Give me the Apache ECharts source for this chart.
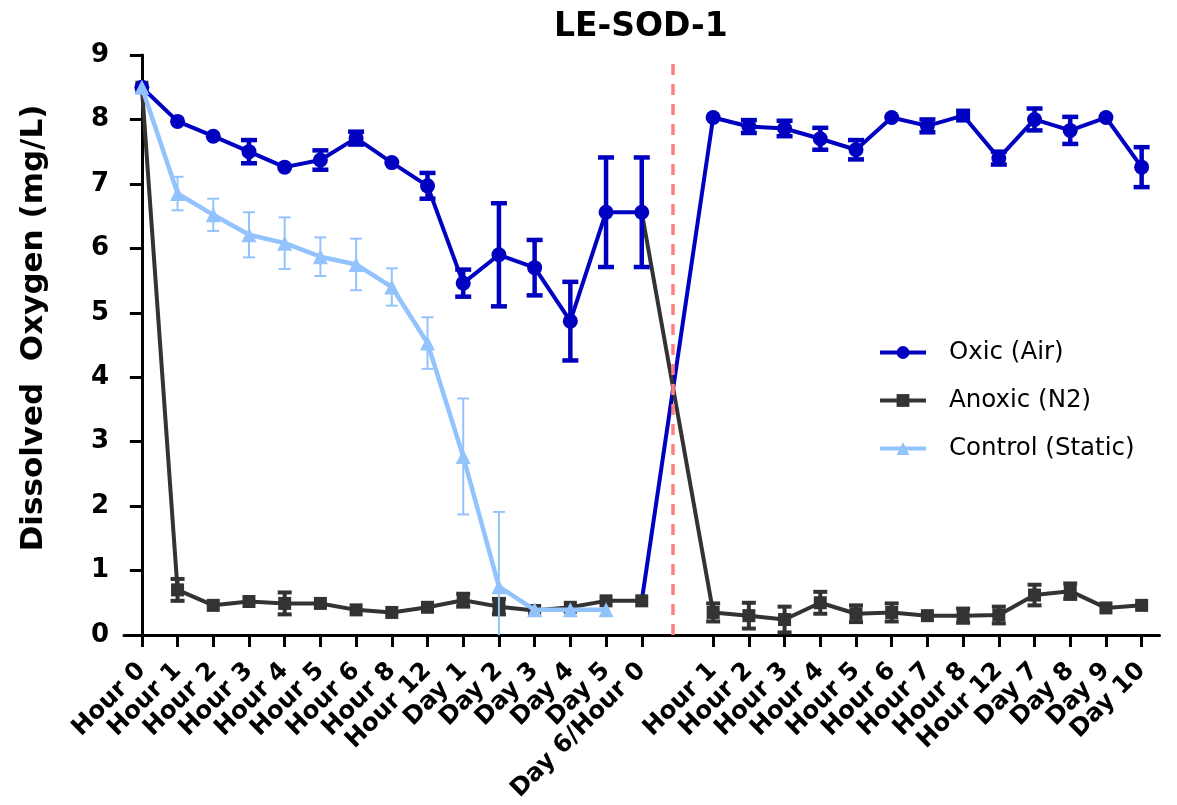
<!DOCTYPE html>
<html>
<head>
<meta charset="utf-8">
<script src="https://cdn.jsdelivr.net/npm/echarts@6/dist/echarts.min.js"></script>
<style>
html,body{margin:0;padding:0;background:#fff;}
#chart{width:1177px;height:805px;}
</style>
</head>
<body>
<div id="chart"></div>
<script>
// ---- data ----
const labels = ['Hour 0','Hour 1','Hour 2','Hour 3','Hour 4','Hour 5','Hour 6','Hour 8','Hour 12','Day 1','Day 2','Day 3','Day 4','Day 5','Day 6/Hour 0','',
  'Hour 1','Hour 2','Hour 3','Hour 4','Hour 5','Hour 6','Hour 7','Hour 8','Hour 12','Day 7','Day 8','Day 9','Day 10'];
const yTicks = [0,1,2,3,4,5,6,7,8,9];
const switchPoint = 14.87; // position of the dashed switch line on the category index scale

const oxicMean = [8.50, 7.97, 7.74, 7.50, 7.26, 7.37, 7.71, 7.33, 6.97, 5.46, 5.90, 5.70, 4.87, 6.56, 6.56, null,
  8.03, 7.89, 7.86, 7.70, 7.53, 8.03, 7.90, 8.06, 7.40, 8.00, 7.83, 8.03, 7.26];
const oxicSd = [0, 0, 0, 0.18, 0, 0.15, 0.10, 0, 0.20, 0.21, 0.80, 0.43, 0.61, 0.85, 0.85, null,
  0, 0.10, 0.12, 0.17, 0.15, 0, 0.10, 0, 0.10, 0.17, 0.21, 0, 0.31];

const anoxicMean = [8.50, 0.70, 0.46, 0.52, 0.49, 0.49, 0.39, 0.35, 0.43, 0.54, 0.44, 0.38, 0.43, 0.53, 0.53, null,
  0.35, 0.30, 0.24, 0.50, 0.33, 0.35, 0.30, 0.30, 0.31, 0.62, 0.68, 0.42, 0.46];
const anoxicSd = [0, 0.17, 0, 0, 0.17, 0, 0, 0, 0, 0.10, 0.12, 0, 0, 0, 0, null,
  0.14, 0.20, 0.20, 0.17, 0.13, 0.14, 0, 0.11, 0.13, 0.16, 0.12, 0, 0];

const controlMean = [8.50, 6.85, 6.52, 6.21, 6.08, 5.87, 5.75, 5.40, 4.53, 2.77, 0.75, 0.39, 0.39, 0.39];
const controlSd = [0, 0.26, 0.25, 0.35, 0.40, 0.30, 0.40, 0.29, 0.40, 0.90, 1.16, 0, 0, 0];

// ---- styling ----
const FONT = 'DejaVu Sans';
const C_OXIC = '#0000C0', C_ANOX = '#333333', C_CTRL = '#93C3FD', C_LINE = '#FF8080';

function pts(arr, from, to) {
  const out = [];
  for (let i = from; i <= to; i++) if (arr[i] != null) out.push([i, arr[i]]);
  return out;
}
function errPts(mean, sd, from, to) {
  const out = [];
  for (let i = from; i <= to; i++) if (sd[i] && sd[i] > 0) out.push([i, mean[i], sd[i]]);
  return out;
}
function errSeries(name, data, color, lw, cap, z) {
  return {
    name: name, type: 'custom', data: data, z: z, silent: true, clip: false,
    renderItem: function (params, api) {
      const x = api.value(0), m = api.value(1), s = api.value(2);
      const top = api.coord([x, m + s]);
      const bot = api.coord([x, Math.max(0, m - s)]);
      const st = { stroke: color, lineWidth: lw };
      const ch = [{ type: 'line', shape: { x1: top[0], y1: top[1], x2: bot[0], y2: bot[1] }, style: st },
                  { type: 'line', shape: { x1: top[0] - cap / 2, y1: top[1], x2: top[0] + cap / 2, y2: top[1] }, style: st }];
      if (m - s > 0) ch.push({ type: 'line', shape: { x1: bot[0] - cap / 2, y1: bot[1], x2: bot[0] + cap / 2, y2: bot[1] }, style: st });
      return { type: 'group', children: ch };
    }
  };
}

const tickIdx = [];
for (let i = 0; i < labels.length; i++) if (labels[i] !== '') tickIdx.push(i);

const oxic2 = [{ value: [14, anoxicMean[14]], symbol: 'none' }].concat(
  pts(oxicMean, 16, 28).map(p => p[0] === 23 ? { value: p, symbol: 'rect', symbolSize: 14 } : p));
const anoxic2 = [{ value: [14, oxicMean[14]], symbol: 'none' }].concat(pts(anoxicMean, 16, 28));

const chart = echarts.init(document.getElementById('chart'), null, { renderer: 'canvas' });
chart.setOption({
  animation: false,
  backgroundColor: '#fff',
  textStyle: { fontFamily: FONT },
  title: {
    text: 'LE-SOD-1', left: 549, top: 6,
    textStyle: { fontFamily: FONT, fontWeight: 'bold', fontSize: 33, color: '#000' }
  },
  legend: {
    orient: 'vertical', left: 873, top: 334,
    data: ['Oxic (Air)', 'Anoxic (N2)', 'Control (Static)'],
    itemWidth: 46, itemHeight: 16, itemGap: 21,
    lineStyle: { width: 4 },
    textStyle: { fontFamily: FONT, fontSize: 24.5, color: '#000', lineHeight: 27, padding: [0, 0, 0, 18] }
  },
  grid: { left: 124, right: 17.5, top: 55, bottom: 170, containLabel: false, outerBoundsMode: 'none' },
  xAxis: {
    type: 'value', min: -0.5, max: 28.5,
    splitLine: { show: false },
    axisLine: { show: true, onZero: false, lineStyle: { color: '#000', width: 3 } },
    axisTick: { show: true, customValues: tickIdx, length: 12, lineStyle: { color: '#000', width: 3 } },
    axisLabel: {
      customValues: tickIdx, rotate: 45, margin: 32,
      formatter: v => labels[Math.round(v)],
      fontFamily: FONT, fontWeight: 'bold', fontSize: 24.5, color: '#000'
    }
  },
  yAxis: {
    type: 'value', min: 0, max: 9, interval: 1,
    name: 'Dissolved  Oxygen (mg/L)', nameLocation: 'middle', nameGap: 75,
    nameTextStyle: { fontFamily: FONT, fontWeight: 'bold', fontSize: 31, color: '#000', padding: [0, 0, 0, 34] },
    splitLine: { show: false },
    axisLine: { show: true, lineStyle: { color: '#000', width: 3 } },
    axisTick: { show: true, length: 12, lineStyle: { color: '#000', width: 3 } },
    axisLabel: { margin: 15, fontFamily: FONT, fontWeight: 'bold', fontSize: 26, color: '#000',
      formatter: v => String(yTicks[yTicks.indexOf(v)]) }
  },
  series: [
    errSeries('anoxicErr', errPts(anoxicMean, anoxicSd, 0, 28), C_ANOX, 4, 14, 2),
    {
      name: 'Anoxic (N2)', type: 'line', data: pts(anoxicMean, 0, 14), z: 2,
      symbol: 'rect', symbolSize: 13, itemStyle: { color: C_ANOX },
      lineStyle: { color: C_ANOX, width: 4 },
      markLine: {
        silent: true, symbol: 'none', label: { show: false },
        lineStyle: { color: C_LINE, width: 3.5, type: [11, 9] },
        data: [{ xAxis: switchPoint }]
      }
    },
    {
      name: 'Anoxic (N2)', type: 'line', data: anoxic2, z: 2,
      symbol: 'rect', symbolSize: 13, itemStyle: { color: C_ANOX },
      lineStyle: { color: C_ANOX, width: 4 }
    },
    errSeries('oxicErr', errPts(oxicMean, oxicSd, 0, 28), C_OXIC, 4.5, 16, 3),
    {
      name: 'Oxic (Air)', type: 'line', data: pts(oxicMean, 0, 14), z: 3,
      symbol: 'circle', symbolSize: 15, itemStyle: { color: C_OXIC },
      lineStyle: { color: C_OXIC, width: 4 }
    },
    {
      name: 'Oxic (Air)', type: 'line', data: oxic2, z: 1,
      symbol: 'circle', symbolSize: 15, itemStyle: { color: C_OXIC },
      lineStyle: { color: C_OXIC, width: 4 }
    },
    errSeries('controlErr', errPts(controlMean, controlSd, 0, 13), C_CTRL, 2, 12, 4),
    {
      name: 'Control (Static)', type: 'line', data: pts(controlMean, 0, 13), z: 4,
      symbol: 'triangle', symbolSize: 15, itemStyle: { color: C_CTRL },
      lineStyle: { color: C_CTRL, width: 4.5 }
    }
  ]
});
</script>
</body>
</html>
